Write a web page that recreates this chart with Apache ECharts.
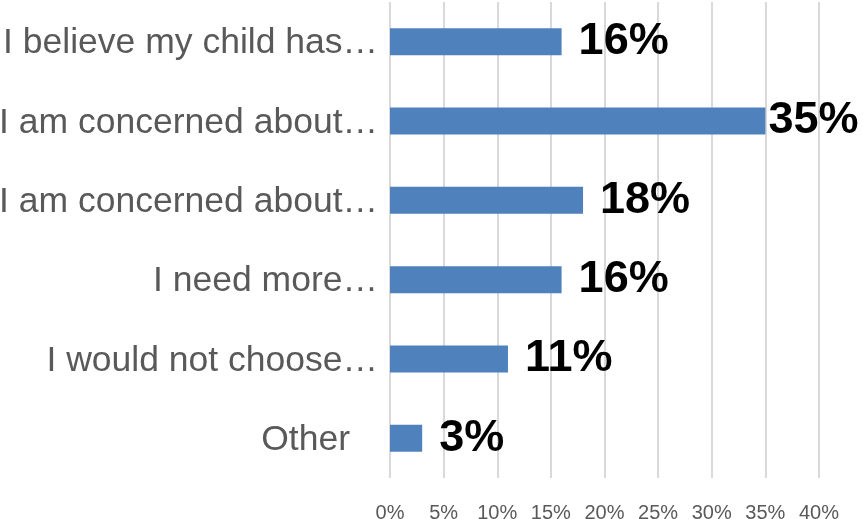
<!DOCTYPE html>
<html>
<head>
<meta charset="utf-8">
<script src="https://cdn.jsdelivr.net/npm/echarts@6/dist/echarts.min.js"></script>
<style>
html,body{margin:0;padding:0;background:#fff;}
#c{width:863px;height:519px;}
</style>
</head>
<body>
<div id="c"></div>
<script>
const categories = [
  "I believe my child has…",
  "I am concerned about…",
  "I am concerned about…",
  "I need more…",
  "I would not choose…",
  "Other"
];
const values = [16, 35, 18, 16, 11, 3];
const tickMin = 0, tickMax = 40, tickStep = 5;

const chart = echarts.init(document.getElementById('c'), null, {renderer: 'canvas'});
const catIdx = categories.map((c, i) => i);
chart.setOption({
  animation: false,
  backgroundColor: '#ffffff',
  grid: {left: 390, right: 44, top: 2, bottom: 41, containLabel: false, outerBoundsMode: 'none'},
  xAxis: {
    type: 'value', min: tickMin, max: tickMax, interval: tickStep,
    axisLine: {show: false}, axisTick: {show: false},
    splitLine: {show: true, lineStyle: {color: '#d9d9d9', width: 2}},
    axisLabel: {
      formatter: v => v + '%', color: '#595959',
      fontFamily: 'Liberation Sans', fontSize: 20, margin: 25
    }
  },
  yAxis: {
    type: 'category', inverse: true,
    data: catIdx.map(String),
    axisLine: {show: false}, axisTick: {show: false},
    axisLabel: {
      formatter: (v) => {
        const t = categories[+v];
        return t === 'Other' ? '{o|' + t + '}' : '{n|' + t + '}';
      },
      margin: 12,
      rich: {
        n: {color: '#595959', fontFamily: 'Liberation Sans', fontSize: 35.5, padding: [4, 0, 0, 0]},
        o: {color: '#595959', fontFamily: 'Liberation Sans', fontSize: 35.5, padding: [4, 28, 0, 0]}
      }
    }
  },
  series: [{
    type: 'bar',
    barWidth: 27,
    itemStyle: {color: '#4f81bd'},
    data: values.map(v => v === Math.max(...values) ? {value: v, label: {distance: 3}} : v),
    label: {
      show: true, position: 'right', distance: 17,
      formatter: p => p.value + '%',
      padding: [6, 0, 0, 0],
      color: '#000000', fontFamily: 'Liberation Sans', fontWeight: 'bold', fontSize: 45
    }
  }]
});
</script>
</body>
</html>
